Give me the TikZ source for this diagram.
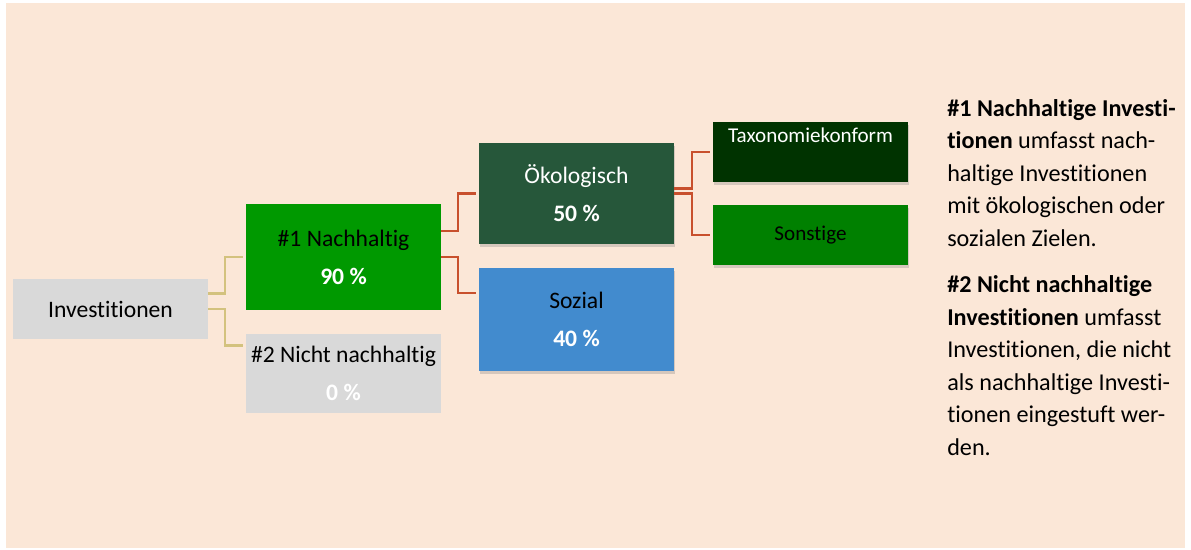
\documentclass[tikz,border=0pt]{standalone}
\usepackage{fontspec}
\setmainfont[Ligatures=NoCommon]{Carlito}
\usetikzlibrary{shadows}
\definecolor{bgcolor}{HTML}{FBE7D7}
\definecolor{boxgray}{HTML}{D9D9D9}
\definecolor{susgreen}{HTML}{009900}
\definecolor{ecocolor}{HTML}{26573A}
\definecolor{taxcolor}{HTML}{003300}
\definecolor{othercolor}{HTML}{008000}
\definecolor{soccolor}{HTML}{428BCE}
\definecolor{goldline}{HTML}{D3C27E}
\definecolor{redline}{HTML}{C8502D}

\begin{document}
\begin{tikzpicture}[
    box/.style={minimum width=4.875cm, inner sep=0pt, align=center, font=\fontsize{16.8}{27}\selectfont},
    leaf/.style={minimum width=4.875cm, minimum height=1.5cm, inner sep=0pt, align=center, font=\fontsize{15}{18}\selectfont},
    shade/.style={drop shadow={shadow xshift=0.03cm, shadow yshift=-0.07cm, opacity=0.3}},
    link/.style={line width=1.6pt, shorten >=0.08cm},
]
  \useasboundingbox (0, 0) rectangle (29.775, 13.725);
  \fill[bgcolor] (0.15, 0.025) rectangle (29.625, 13.65);

  % === Root ===
  \node[box, fill=boxgray, minimum height=1.5cm] (inv) at (2.7625, 6.0) {Investitionen};

  % === First level ===
  \node[box, fill=susgreen, minimum height=2.65cm] (nach) at (8.5875, 7.3)
    {\#1 Nachhaltig\\{\color{white}\bfseries 90 \%}};
  \node[box, fill=boxgray, minimum height=1.975cm] (nicht) at (8.5875, 4.3875)
    {\#2 Nicht nachhaltig\\{\color{white}\bfseries 0 \%}};

  % === Second level ===
  \node[box, shade, fill=ecocolor, text=white, minimum height=2.525cm] (oeko) at (14.4125, 8.8875)
    {Ökologisch\\\textbf{50 \%}};
  \node[box, shade, fill=soccolor, minimum height=2.575cm] (sozial) at (14.4125, 5.7375)
    {Sozial\\{\color{white}\bfseries 40 \%}};

  % === Third level (environmental split) ===
  \node[leaf, shade, fill=taxcolor, text=white, text height=0.5cm, text depth=1.0cm] (taxo) at (20.2625, 9.925)
    {Taxonomiekonform};
  \node[leaf, shade, fill=othercolor] (sonst) at (20.2625, 7.85) {Sonstige};

  % === Connectors ===
  \draw[link, goldline] (inv.9) -- ++(0.425, 0) |- (nach.west);
  \draw[link, goldline] (inv.east) -- ++(0.425, 0) |- (nicht.164);
  \draw[link, redline] (nach.15) -- ++(0.425, 0) |- (oeko.west);
  \draw[link, redline] (nach.east) -- ++(0.425, 0) |- (sozial.165);
  \draw[link, redline] (oeko.3) -- ++(0.45, 0) |- (taxo.west);
  \draw[link, redline] (oeko.east) -- ++(0.45, 0) |- (sonst.west);

  % === Legend text ===
  \node[anchor=north west, inner sep=0pt, align=left, font=\fontsize{17.2}{23.1}\selectfont] (note) at (23.675, 11.25)
    {\textbf{\#1 Nachhaltige Investi-}\\\textbf{tionen} umfasst nach-\\haltige Investitionen\\mit ökologischen oder\\sozialen Zielen.\\[10pt]
     \textbf{\#2 Nicht nachhaltige}\\\textbf{Investitionen} umfasst\\Investitionen, die nicht\\als nachhaltige Investi-\\tionen eingestuft wer-\\den.};
\end{tikzpicture}
\end{document}
